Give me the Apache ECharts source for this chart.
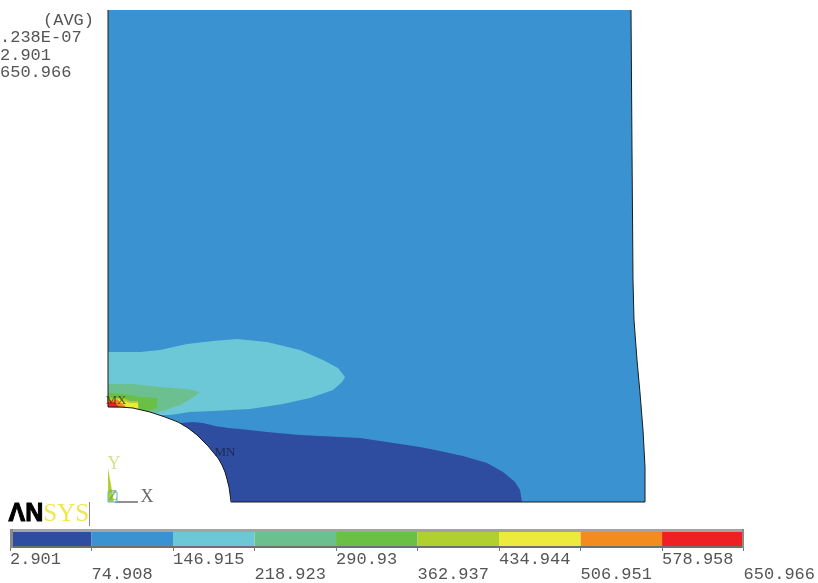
<!DOCTYPE html>
<html lang="en">
<head>
  <meta charset="UTF-8">
  <title>ANSYS contour</title>
  <script src="https://cdn.jsdelivr.net/npm/echarts@6/dist/echarts.min.js"></script>
  <style>
    html, body { margin: 0; padding: 0; background: #fff; }
  </style>
</head>
<body>
<div id="graph" style="width: 818px; height: 583px"></div>
<script>
  // contour levels and their colours, lowest band first
  const levels = [2.901, 74.908, 146.915, 218.923, 290.93, 362.937, 434.944, 506.951, 578.958, 650.966];
  const bandColors = ['#2f4da0', '#3a92d0', '#6cc8d6', '#6cc090', '#6abf45', '#b0d030', '#ecea3c', '#f28c1e', '#ee2024'];
  const infoLines = ['.238E-07', '2.901', '650.966'];

  // plate outline, model units, counter-clockwise from the origin side of the hole
  const holeEdge = [[0, 95], [12, 95], [25, 94], [42, 90], [57, 85], [70, 80], [80, 74], [89, 67], [95, 61], [100, 56], [105, 50], [110, 44], [114, 37], [117, 30], [119, 23], [121, 15], [122, 8], [123, 0]];
  const rightEdge = [[537, 0], [537, 35], [535, 72], [532, 109], [529, 142], [526, 182], [525, 222], [524, 352], [523, 492]];
  const plate = [[0, 492], ...holeEdge, ...rightEdge];

  // contour bands, each closed against the hole
  const band1 = [[124, 0], [122, 8], [121, 15], [119, 23], [117, 30], [114, 37], [110, 44], [105, 50], [100, 56], [95, 61], [89, 67], [80, 74], [72, 79], [85, 80], [95, 79], [107, 76], [120, 74], [132, 73], [159, 70], [192, 67], [252, 64], [312, 55], [332, 51], [355, 46], [379, 39], [395, 30], [407, 20], [412, 12], [414, 0]];
  const band3 = [[0, 150], [32, 150], [52, 152], [79, 158], [105, 161], [129, 163], [159, 160], [192, 152], [215, 142], [230, 134], [237, 125], [234, 120], [225, 112], [202, 104], [175, 98], [142, 93], [105, 91], [82, 90], [62, 87], [52, 87], [42, 90], [25, 94], [0, 95]];
  const band4 = [[0, 118], [25, 118], [52, 115], [79, 113], [92, 110], [84, 104], [72, 97], [55, 91], [47, 89], [42, 90], [25, 94], [0, 95]];
  const band5 = [[0, 109], [15, 108], [32, 105], [49, 104], [49, 94], [39, 91], [25, 94], [0, 95]];
  const band6 = [[0, 104], [15, 104], [22, 101], [30, 101], [31, 92], [25, 94], [0, 95]];
  const band7 = [[10, 103], [15, 101], [22, 99], [30, 99], [30, 92], [25, 94], [10, 95]];
  const band8 = [[0, 102], [10, 102], [16, 97], [18, 95], [0, 95]];
  const band9 = [[0, 100], [6, 100], [10, 96], [12, 95], [0, 95]];

  // global axis triad
  const triadY = [[0, 34], [6, 0], [0, 0]];
  const triadX = [[7, 0], [30, 0]];
  const triadZ = [[0, 0], [9, 0], [9, 10], [0, 10], [0, 0]];

  const marks = [
    { name: 'MX', value: [8, 101], color: '#3a3010', size: 13 },
    { name: 'MN', value: [117, 49], color: '#1a1f40', size: 13 },
    { name: 'Y', value: [6, 38], color: '#c9da6c', size: 18 },
    { name: 'X', value: [39, 5], color: '#444', size: 18 },
    { name: 'Z', value: [5, 6], color: '#6fa63a', size: 15 }
  ];

  const monoFont = '"Liberation Mono", monospace';
  const serifFont = '"Liberation Serif", serif';

  function polygon(points, fill) {
    return {
      type: 'custom',
      xAxisIndex: 0,
      yAxisIndex: 0,
      silent: true,
      data: [[0, 0]],
      renderItem: (params, api) => ({
        type: 'polygon',
        shape: { points: points.map(p => api.coord(p)) },
        style: { fill: fill }
      })
    };
  }

  function polyline(points, stroke, width) {
    return {
      type: 'custom',
      xAxisIndex: 0,
      yAxisIndex: 0,
      silent: true,
      data: [[0, 0]],
      renderItem: (params, api) => ({
        type: 'polyline',
        shape: { points: points.map(p => api.coord(p)) },
        style: { stroke: stroke, lineWidth: width, fill: 'none' }
      })
    };
  }

  function infoText(text, y) {
    return {
      type: 'text',
      left: 0,
      top: y - 8,
      style: { text: text, font: '17px ' + monoFont, fill: '#555' }
    };
  }

  function frameRect(x, y, w, h, color) {
    return { type: 'rect', z: 100, shape: { x: x, y: y, width: w, height: h }, style: { fill: color } };
  }

  const chart = echarts.init(document.getElementById('graph'));
  const option = {
    animation: false,
    backgroundColor: '#fff',
    grid: [
      { left: 108, top: 10, width: 537, height: 492 },
      { left: 10, top: 529, width: 734, height: 19 }
    ],
    xAxis: [
      { type: 'value', gridIndex: 0, min: 0, max: 537, show: false },
      {
        type: 'value',
        gridIndex: 1,
        min: levels[0],
        max: levels[levels.length - 1],
        splitLine: { show: false },
        axisLine: { show: false },
        axisTick: { show: true, customValues: levels, length: 5, lineStyle: { color: '#777' } },
        axisLabel: {
          customValues: levels,
          margin: 6,
          align: 'left',
          color: '#555',
          fontFamily: monoFont,
          fontSize: 17,
          lineHeight: 15,
          formatter: v => (levels.indexOf(v) % 2 ? '\n' : '') + v
        }
      }
    ],
    yAxis: [
      { type: 'value', gridIndex: 0, min: 0, max: 492, show: false },
      { type: 'value', gridIndex: 1, min: 0, max: 1, show: false }
    ],
    graphic: [
      {
        type: 'text',
        left: 43,
        top: 12,
        style: { text: '(AVG)', font: '17px ' + monoFont, fill: '#555' }
      },
      infoText(infoLines[0], 37),
      infoText(infoLines[1], 55),
      infoText(infoLines[2], 72),
      {
        type: 'text',
        left: 8,
        top: 501,
        style: {
          text: '{a|ΛN}{b|SYS}',
          rich: {
            a: { font: 'bold 25px "Liberation Sans", sans-serif', fill: '#000', stroke: '#000', lineWidth: 1 },
            b: { font: '25px ' + serifFont, fill: '#f0e84a' }
          }
        }
      },
      frameRect(89, 502, 1, 24, '#888'),
      frameRect(10, 529, 734, 3, '#a3a3a3'),
      frameRect(10, 546, 734, 2, '#6f6f6f'),
      frameRect(10, 529, 3, 19, '#8a8a8a'),
      frameRect(742, 529, 2, 19, '#8a8a8a')
    ],
    series: [
      polygon(plate, bandColors[1]),
      polygon(band1, bandColors[0]),
      polygon(band3, bandColors[2]),
      polygon(band4, bandColors[3]),
      polygon(band5, bandColors[4]),
      polygon(band6, bandColors[5]),
      polygon(band7, bandColors[6]),
      polygon(band8, bandColors[7]),
      polygon(band9, bandColors[8]),
      polyline(plate, '#1c1c1c', 1),
      polygon(triadY, '#b4d02c'),
      polyline(triadX, '#222', 1),
      polyline(triadZ, '#55b6e4', 1),
      {
        type: 'scatter',
        xAxisIndex: 0,
        yAxisIndex: 0,
        silent: true,
        symbolSize: 0,
        z: 10,
        data: marks.map(m => ({
          name: m.name,
          value: m.value,
          label: {
            show: true,
            position: 'inside',
            formatter: '{b}',
            color: m.color,
            fontFamily: serifFont,
            fontSize: m.size
          }
        }))
      },
      {
        type: 'custom',
        xAxisIndex: 1,
        yAxisIndex: 1,
        silent: true,
        data: bandColors.map((c, i) => [levels[i], levels[i + 1], i]),
        renderItem: (params, api) => {
          const lo = api.coord([api.value(0), 1]);
          const hi = api.coord([api.value(1), 0]);
          return {
            type: 'rect',
            shape: { x: lo[0], y: lo[1], width: hi[0] - lo[0], height: hi[1] - lo[1] },
            style: { fill: bandColors[api.value(2)] }
          };
        }
      }
    ]
  };
  chart.setOption(option);
</script>
</body>
</html>
